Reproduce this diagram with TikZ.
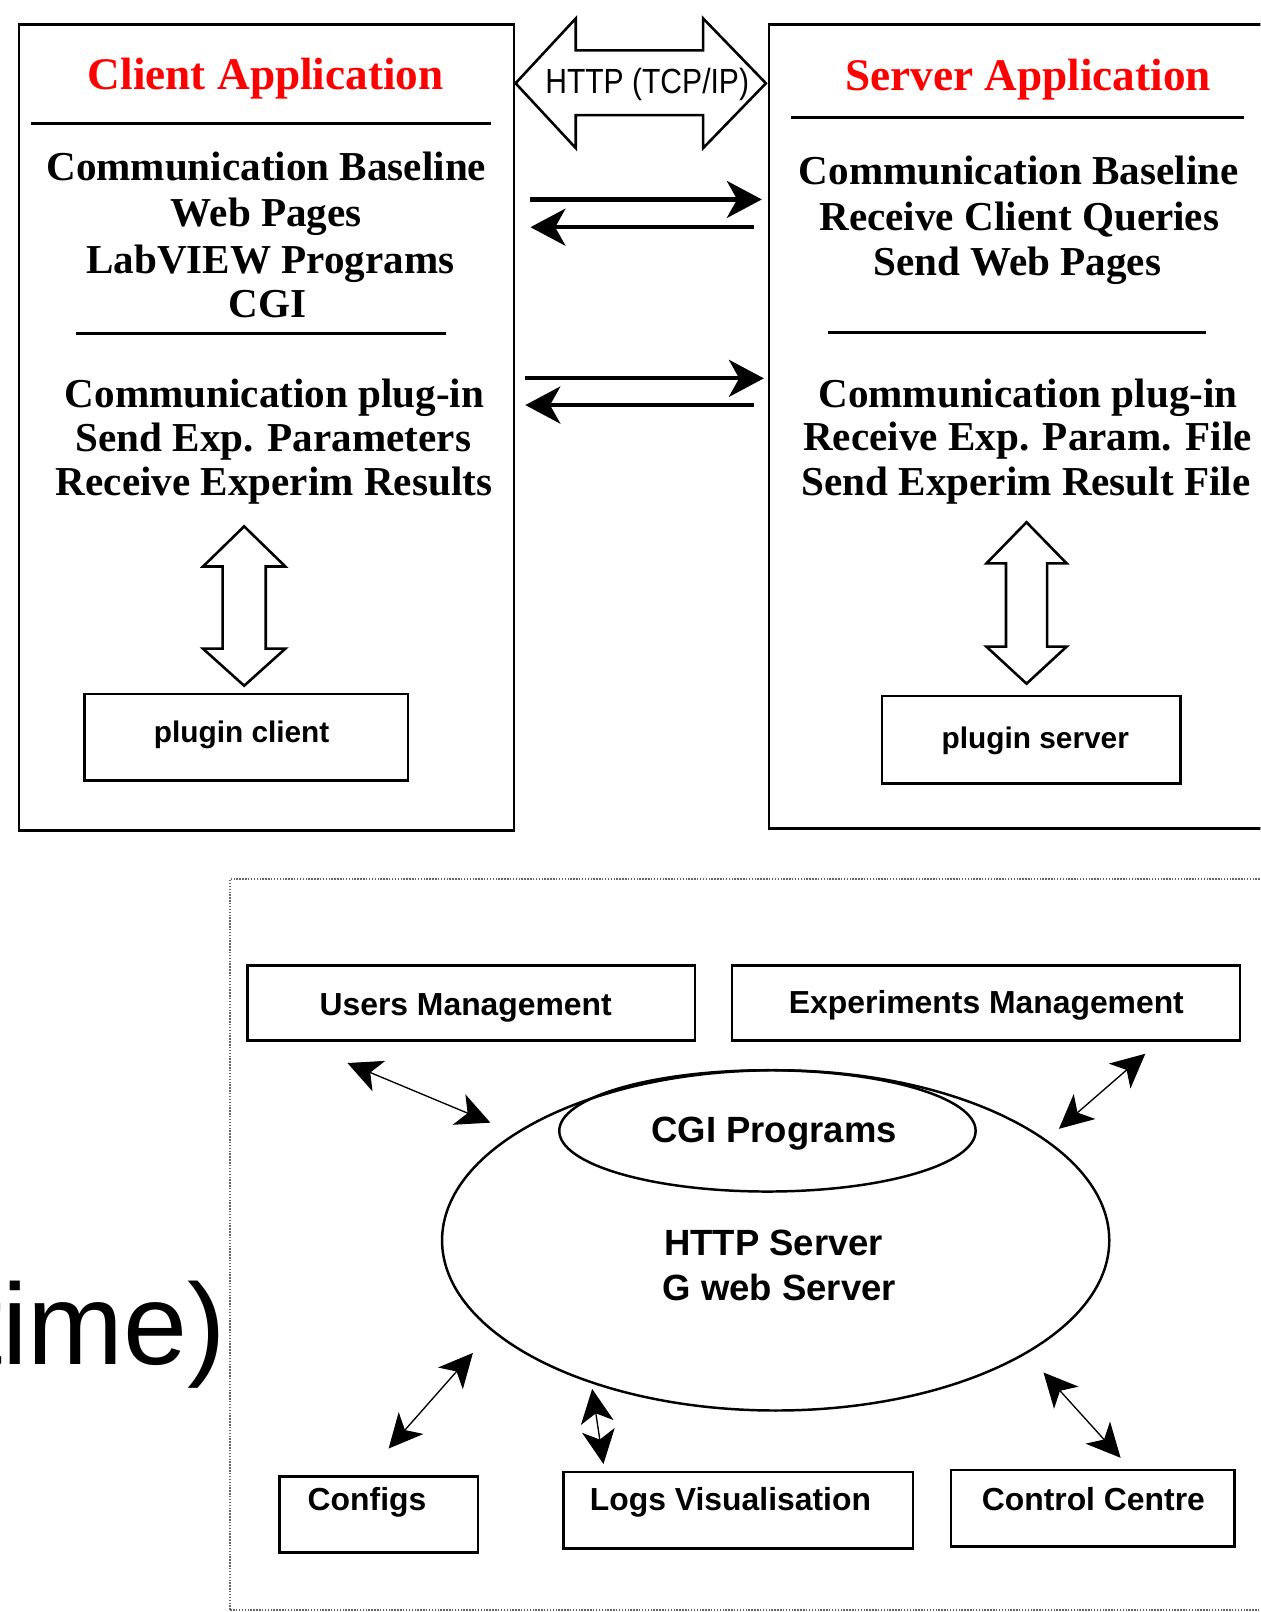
\documentclass[tikz,border=0pt]{standalone}
\usepackage{fontspec}
\setmainfont{Liberation Serif}
\newfontfamily\sansf{Liberation Sans}
\newfontfamily\narrowsans{Liberation Sans}[FakeStretch=0.86]
\usetikzlibrary{arrows.meta,shapes.geometric}
\begin{document}
\begin{tikzpicture}[x=1pt,y=-1pt,
  box/.style={draw, line width=2.5pt, inner sep=0, outer sep=0},
  ttl/.style={anchor=base, inner sep=0, text=red, font=\fontsize{44}{44}\selectfont\bfseries},
  ser/.style={anchor=base, inner sep=0, font=\fontsize{40}{40}\selectfont\bfseries},
  plg/.style={anchor=base, inner sep=0, font=\sansf\bfseries\fontsize{29}{29}\selectfont},
  lbl/.style={anchor=base, inner sep=0, font=\sansf\bfseries\fontsize{31}{31}\selectfont},
  elbl/.style={anchor=base, inner sep=0, font=\sansf\bfseries\fontsize{35.5}{35.5}\selectfont},
  rulel/.style={line width=3pt},
  hollow/.style={draw, line width=2.5pt, line join=miter, fill=white},
  fat/.style={line width=4pt, -{Stealth[length=34pt,width=36pt,inset=10pt]}},
  thin/.style={line width=1.3pt, {Stealth[length=33pt,width=32pt,inset=9pt]}-{Stealth[length=33pt,width=32pt,inset=9pt]}},
  ell/.style={draw, ellipse, line width=2.4pt, inner sep=0},
]
\useasboundingbox (0,0) rectangle (1226,1568);
\fill[white] (0,0) rectangle (1226,1568);
\clip (0,0) rectangle (1226,1568);

% ---------- top: client / server ----------
\node[box, minimum width=481.5pt, minimum height=784pt] (client) at (259.25,416) {};
\node[box, minimum width=492pt, minimum height=782pt] (server) at (994,415) {};

\node[ttl] (ctitle) at (258.5,87) {Client Application};
\draw[rulel] (30,120) -- (478,120);
\node[ser] (c1) at (259,176) {Communication Baseline};
\node[ser] (c2) at (259,220) {Web Pages};
\node[ser] (c3) at (263,266) {LabVIEW Programs};
\node[ser] (c4) at (260,309) {CGI};
\draw[rulel] (74,324) -- (434,324);
\node[ser] (c5) at (267,396) {Communication plug-in};
\node[ser] (c6) at (266,439) {Send Exp. Parameters};
\node[ser] (c7) at (266.5,482) {Receive Experim Results};

\node[ttl] (stitle) at (1000,88) {Server Application};
\draw[rulel] (769,114) -- (1210,114);
\node[ser] (s1) at (991,179) {Communication Baseline};
\node[ser] (s2) at (991.5,224) {Receive Client Queries};
\node[ser] (s3) at (989.5,268) {Send Web Pages};
\draw[rulel] (805,323) -- (1173,323);
\node[ser] (s4) at (1000,396) {Communication plug-in};
\node[ser] (s5) at (999.5,438) {Receive Exp. Param. File};
\node[ser] (s6) at (998,482) {Send Experim Result File};

% hollow HTTP arrow
\draw[hollow] (501.5,81) -- (560,18) -- (560,49) -- (684,49) -- (684,18) -- (745,81)
  -- (684,144) -- (684,112) -- (560,112) -- (560,144) -- cycle;
\node[inner sep=0, anchor=base, font=\narrowsans\fontsize{34}{34}\selectfont] (http) at (629.5,91) {HTTP (TCP/IP)};

% hollow vertical arrows
\draw[hollow] (237.5,512) -- (277.5,551) -- (258.5,551) -- (258.5,631) -- (277.5,631) -- (237.5,667)
  -- (197.5,631) -- (216.5,631) -- (216.5,551) -- (197.5,551) -- cycle;
\draw[hollow] (998.5,508) -- (1037.5,548) -- (1018.5,548) -- (1018.5,629) -- (1037.5,629) -- (998.5,665)
  -- (959.5,629) -- (978.5,629) -- (978.5,548) -- (959.5,548) -- cycle;

\node[box, minimum width=315pt, minimum height=84pt] (pcbox) at (239.5,717) {};
\node[plg] (pc) at (235,722) {plugin client};
\node[box, minimum width=290pt, minimum height=85pt] (psbox) at (1003,719.5) {};
\node[plg] (ps) at (1007,728) {plugin server};

% thick arrows between client and server
\coordinate (a1s) at (516,194); \coordinate (a1e) at (741,194);
\coordinate (a2s) at (733,221); \coordinate (a2e) at (516,221);
\coordinate (a3s) at (511,368); \coordinate (a3e) at (743,368);
\coordinate (a4s) at (733,394); \coordinate (a4e) at (511,394);
\draw[fat] (a1s) -- (a1e);
\draw[fat] (a2s) -- (a2e);
\draw[fat] (a3s) -- (a3e);
\draw[fat] (a4s) -- (a4e);

% ---------- bottom ----------
\node[inner sep=0, anchor=base east, font=\sansf\fontsize{112}{112}\selectfont] (tm) at (220,1327) {time)};

\node[draw=black!60, line width=1.6pt, dash pattern=on 1.4pt off 1.4pt, minimum width=1016pt, minimum height=711pt, inner sep=0] (frame) at (732,1210.5) {};

\node[box, minimum width=435pt, minimum height=73pt] (umbox) at (458.5,975.5) {};
\node[lbl] (um) at (453,988) {Users Management};
\node[box, minimum width=494pt, minimum height=73pt] (embox) at (959,975.5) {};
\node[lbl] (em) at (959.5,986) {Experiments Management};

\node[ell, minimum width=649pt, minimum height=331pt] (hsrv) at (754.5,1206.5) {};
\node[ell, minimum width=405pt, minimum height=118pt] (cgie) at (746.5,1100) {};
\node[elbl] (cgi) at (753,1111) {CGI Programs};
\node[elbl] (hs) at (752.5,1221) {HTTP Server};
\node[elbl] (gw) at (758,1265) {G web Server};

\node[box, minimum width=193pt, minimum height=74pt] (cfbox) at (368.5,1473) {};
\node[lbl] (cf) at (357,1469) {Configs};
\node[box, minimum width=340pt, minimum height=74pt] (lvbox) at (718,1469) {};
\node[lbl] (lv) at (710.5,1469) {Logs Visualisation};
\node[box, minimum width=276pt, minimum height=74pt] (ccbox) at (1063,1467) {};
\node[lbl] (cc) at (1063.5,1469) {Control Centre};

% thin double arrows
\coordinate (u1) at (338,1034); \coordinate (u2) at (477,1092);
\coordinate (e1) at (1114,1025); \coordinate (e2) at (1030,1098);
\coordinate (f1) at (460,1316); \coordinate (f2) at (378,1409);
\coordinate (l1) at (576,1351); \coordinate (l2) at (587,1424);
\coordinate (k1) at (1015,1335); \coordinate (k2) at (1090,1418);
\draw[thin] (u1) -- (u2);
\draw[thin] (e1) -- (e2);
\draw[thin] (f1) -- (f2);
\draw[thin] (l1) -- (l2);
\draw[thin] (k1) -- (k2);
\end{tikzpicture}
\end{document}
